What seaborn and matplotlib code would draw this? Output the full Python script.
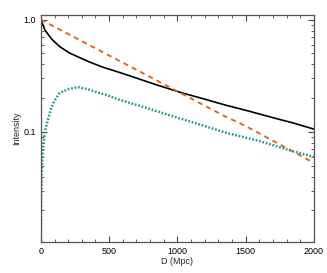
import numpy as np
import matplotlib
matplotlib.use("Agg")
import matplotlib.pyplot as plt
import matplotlib.ticker as mticker
import seaborn as sns

# values
d_solid = [0, 29, 80, 139, 210, 286, 360, 447, 579, 700, 850, 1033, 1200, 1348, 1500, 1700, 1850, 2000]
i_solid = [1.0, 0.81, 0.67, 0.574, 0.505, 0.458, 0.418, 0.38, 0.338, 0.302, 0.262, 0.223, 0.196, 0.174, 0.156, 0.134, 0.120, 0.106]

d_dashed = [0, 500, 1000, 1348, 1500, 2000]
i_dashed = [1.0, 0.48, 0.23, 0.138, 0.113, 0.053]

d_dotted = [0, 2, 7, 15, 27, 51, 75, 100, 137, 198, 271, 344, 418, 478, 579, 800, 1000, 1200, 1348, 1600, 1824, 2000]
i_dotted = [0.0105, 0.025, 0.049, 0.069, 0.098, 0.128, 0.163, 0.19, 0.222, 0.24, 0.251, 0.24, 0.224, 0.214, 0.193, 0.16, 0.134, 0.113, 0.099, 0.083, 0.0686, 0.06]

sns.set_style("ticks")
plt.rcParams['font.family'] = ['Liberation Sans', 'DejaVu Sans']

fig = plt.figure(figsize=(3.27, 2.73), dpi=100)
ax = fig.add_axes([0.125, 0.114, 0.835, 0.831])

sns.lineplot(x=d_solid, y=i_solid, ax=ax, color="black", linewidth=1.2)
sns.lineplot(x=d_dashed, y=i_dashed, ax=ax, color="#e0671f", linewidth=1.4,
             linestyle=(0, (2.6, 2.2)))
sns.lineplot(x=d_dotted, y=i_dotted, ax=ax, color="#249a85", linewidth=1.8,
             linestyle=(0, (0.7, 0.7)))

ax.set_yscale("log")
ax.set_xlim(0, 2000)
ax.set_ylim(0.0105, 1.1)

ax.xaxis.set_major_locator(mticker.MultipleLocator(500))
ax.xaxis.set_minor_locator(mticker.MultipleLocator(100))
ax.yaxis.set_major_locator(mticker.FixedLocator([0.1, 1.0]))
ax.yaxis.set_major_formatter(mticker.FixedFormatter(["0.1", "1.0"]))
ax.yaxis.set_minor_locator(mticker.LogLocator(base=10, subs=np.arange(2, 10)))
ax.yaxis.set_minor_formatter(mticker.NullFormatter())

ax.tick_params(which="both", direction="in", top=True, right=True,
               labelsize=6.5, colors="#444444", labelcolor="black")
ax.tick_params(which="major", length=4, width=0.8)
ax.tick_params(which="minor", length=2.5, width=0.6)
for s in ax.spines.values():
    s.set_color("#555555")
    s.set_linewidth(0.9)

ax.set_xlabel("D (Mpc)", fontsize=6.5, labelpad=1)
ax.set_ylabel("Intensity", fontsize=6.5, labelpad=1.5)

fig.savefig("out.png", dpi=100)
